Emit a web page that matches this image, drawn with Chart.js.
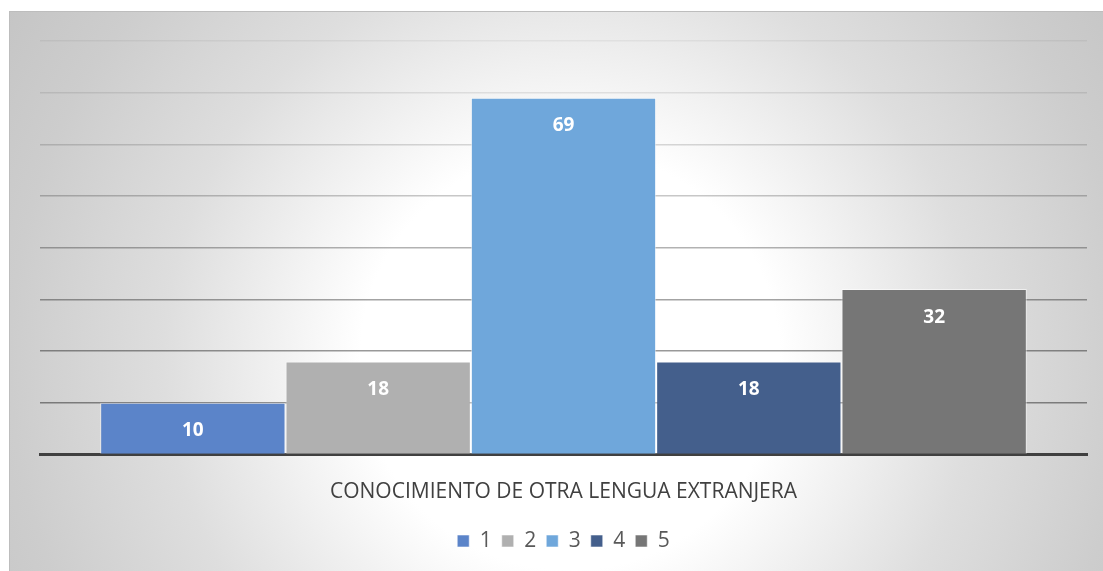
<!DOCTYPE html>
<html>
<head>
<meta charset="utf-8">
<script src="https://cdn.jsdelivr.net/npm/chart.js@4"></script>
<style>
  html, body { margin: 0; padding: 0; background: #ffffff; }
  #chart { display: block; }
</style>
</head>
<body>
<canvas id="chart" width="1103" height="571"></canvas>
<script>
// datos del gráfico
const categories = ["CONOCIMIENTO DE OTRA LENGUA EXTRANJERA"];
const seriesNames = ["1", "2", "3", "4", "5"];
const seriesValues = [10, 18, 69, 18, 32];
const yTicks = [0, 10, 20, 30, 40, 50, 60, 70, 80];

const seriesColors = ["#5b84c9", "#b0b0b0", "#6fa7db", "#445f8c", "#767676"];
// las líneas de la cuadrícula se oscurecen hacia abajo
const gridAlpha = [0, 0.42, 0.40, 0.36, 0.30, 0.22, 0.15, 0.09, 0.05];

// fondo con degradado radial (como en Excel)
const bgPlugin = {
  id: "bg",
  beforeDraw(chart) {
    const ctx = chart.ctx;
    const w = chart.width, h = chart.height;
    ctx.save();
    const g = ctx.createRadialGradient(570, 360, 0, 570, 360, 700);
    g.addColorStop(0, "#ffffff");
    g.addColorStop(0.3, "#ffffff");
    g.addColorStop(0.58, "#dedede");
    g.addColorStop(0.8, "#cdcdcd");
    g.addColorStop(1, "#c2c2c2");
    ctx.fillStyle = g;
    ctx.fillRect(9, 11, w - 9, h - 11);
    ctx.strokeStyle = "#bdbdbd";
    ctx.lineWidth = 1;
    ctx.strokeRect(9.5, 11.5, w - 9, h - 11);
    ctx.restore();
  }
};

// etiquetas de valor dentro de cada barra
const labelPlugin = {
  id: "valueLabels",
  afterDraw(chart) {
    const ctx = chart.ctx;
    ctx.save();
    ctx.font = "bold 19px 'Open Sans'";
    ctx.fillStyle = "#ffffff";
    ctx.textAlign = "center";
    ctx.textBaseline = "middle";
    chart.data.datasets.forEach((ds, i) => {
      const meta = chart.getDatasetMeta(i);
      meta.data.forEach((bar, j) => {
        ctx.fillText(String(ds.data[j]), bar.x, bar.y + 28);
      });
    });
    ctx.restore();
  }
};

const datasets = seriesNames.map((name, i) => ({
  label: name,
  data: [seriesValues[i]],
  backgroundColor: seriesColors[i],
  borderColor: "rgba(255,255,255,0.55)",
  borderWidth: 1,
  barPercentage: 1,
  categoryPercentage: 0.885
}));

new Chart(document.getElementById("chart"), {
  type: "bar",
  data: { labels: categories, datasets: datasets },
  options: {
    responsive: false,
    animation: false,
    layout: { padding: { left: 40, right: 16, top: 41, bottom: 9.5 } },
    plugins: {
      legend: {
        position: "bottom",
        labels: {
          boxWidth: 12,
          boxHeight: 12,
          padding: 10,
          color: "#595959",
          font: { family: "'Open Sans'", size: 21 }
        }
      },
      tooltip: { enabled: false }
    },
    scales: {
      x: {
        grid: { display: false },
        border: { display: true, color: "#404040", width: 3 },
        ticks: {
          color: "#404040",
          padding: 17,
          font: { family: "'Open Sans'", size: 21 }
        },
        afterFit(scale) { scale.height = 66; }
      },
      y: {
        min: 0,
        max: 80,
        z: 1,
        afterBuildTicks(scale) { scale.ticks = yTicks.map(v => ({ value: v })); },
        ticks: { display: false },
        border: { display: false },
        grid: {
          drawTicks: false,
          lineWidth: 1.5,
          color: (c) => "rgba(0,0,0," + gridAlpha[c.index] + ")"
        },
        afterFit(scale) { scale.width = 0; }
      }
    }
  },
  plugins: [bgPlugin, labelPlugin]
});
</script>
</body>
</html>
